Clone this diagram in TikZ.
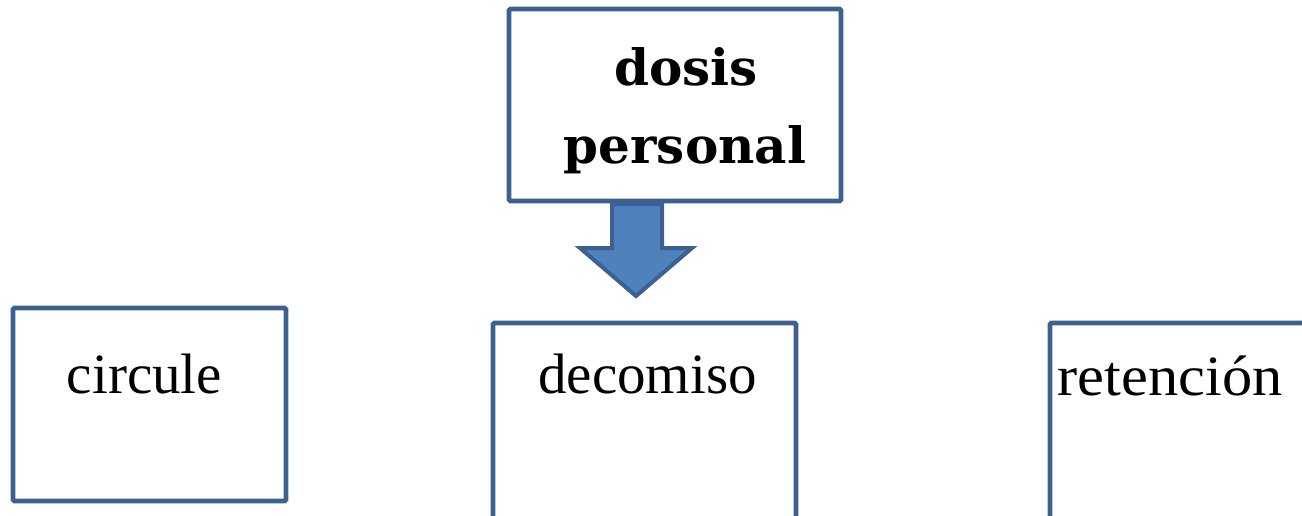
\documentclass[tikz,border=0pt]{standalone}
\usepackage{fontspec}
\setmainfont{Liberation Serif}
\newfontfamily\headfont{DejaVu Serif}
\definecolor{boxline}{RGB}{60,96,143}
\definecolor{arrowfill}{RGB}{79,129,189}
\begin{document}
\begin{tikzpicture}[x=1pt,y=-1pt,
  boxstyle/.style={draw=boxline,line width=4.8pt,rounded corners=1.5pt,fill=white,inner sep=0pt},
  labelstyle/.style={anchor=base,inner sep=0pt,font=\fontsize{57}{60}\selectfont},
  headstyle/.style={anchor=base,inner sep=0pt,font=\headfont\bfseries\fontsize{50}{56}\selectfont}]
\useasboundingbox (0,0) rectangle (1302,515);
\clip (0,0) rectangle (1302,515);
% boxes
\node[boxstyle,minimum width=332pt,minimum height=192pt] (top) at (675,105) {};
\node[boxstyle,minimum width=273pt,minimum height=193pt] (circ) at (149.5,404.5) {};
\node[boxstyle,minimum width=303pt,minimum height=215pt] (deco) at (644.5,430.5) {};
\node[boxstyle,minimum width=300pt,minimum height=215pt] (ret) at (1200,430.5) {};
% labels
\node[headstyle] (l1) at (686,85) {dosis};
\node[headstyle] (l2) at (685,163) {personal};
\node[labelstyle] (lc) at (144.5,393) {circule};
\node[labelstyle] (ld) at (647.5,393) {decomiso};
\node[labelstyle] (lr) at (1170,395) {\scalebox{1.06}[1]{retención}};
% block arrow
\draw[boxline,fill=arrowfill,line width=4pt,line join=miter]
  (612,204) -- (662,204) -- (662,248) -- (692,248) -- (636,296) -- (580,248) -- (612,248) -- cycle;
\end{tikzpicture}
\end{document}
